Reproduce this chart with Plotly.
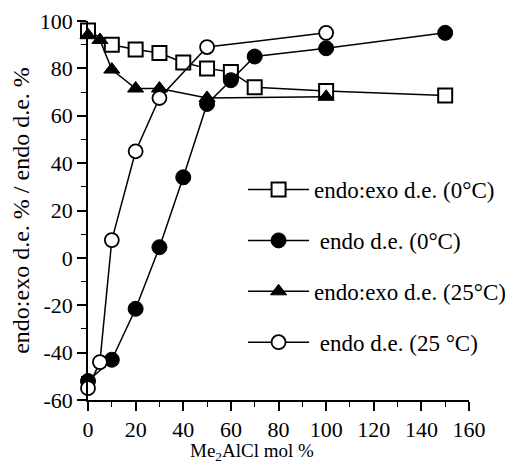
import plotly.graph_objects as go

# endo:exo d.e. (0 °C) - open squares
x_sq = [0, 10, 20, 30, 40, 50, 60, 70, 100, 150]
y_sq = [96, 90, 88, 86.5, 82.5, 80, 78.5, 72, 70.5, 68.5]

# endo d.e. (0 °C) - filled circles
x_fc = [0, 10, 20, 30, 40, 50, 60, 70, 100, 150]
y_fc = [-52, -43, -21.5, 4.5, 34, 65, 75, 85, 88.5, 95]

# endo:exo d.e. (25 °C) - filled triangles
x_tr = [0, 5, 10, 20, 30, 50, 100]
y_tr = [94, 92, 79.5, 71.5, 71.5, 67.5, 68]

# endo d.e. (25 °C) - open circles
x_oc = [0, 5, 10, 20, 30, 50, 100]
y_oc = [-55, -44, 7.5, 45, 67.5, 89, 95]

x_ticks = [0, 20, 40, 60, 80, 100, 120, 140, 160]
y_ticks = [-60, -40, -20, 0, 20, 40, 60, 80, 100]

FONT = "Liberation Serif"
fig = go.Figure()

line = dict(color="black", width=1.5)
fig.add_trace(go.Scatter(x=x_sq, y=y_sq, mode="lines+markers", name="endo:exo d.e. (0°C)",
                         line=line, legendgroup="a",
                         marker=dict(symbol="square", size=14, color="white",
                                     line=dict(color="black", width=2)), cliponaxis=False))
fig.add_trace(go.Scatter(x=x_fc, y=y_fc, mode="lines+markers", name=" endo d.e. (0°C)",
                         line=line, legendgroup="b",
                         marker=dict(symbol="circle", size=15, color="black",
                                     line=dict(color="black", width=1)), cliponaxis=False))
fig.add_trace(go.Scatter(x=x_tr, y=y_tr, mode="lines+markers", name="endo:exo d.e. (25°C)",
                         line=line, legendgroup="c",
                         marker=dict(symbol="triangle-up", size=14, color="black",
                                     line=dict(color="black", width=1)), cliponaxis=False))
fig.add_trace(go.Scatter(x=x_oc, y=y_oc, mode="lines+markers", name=" endo d.e. (25 °C)",
                         line=line, legendgroup="d",
                         marker=dict(symbol="circle", size=14, color="white",
                                     line=dict(color="black", width=1.8)), cliponaxis=False))

axis_common = dict(showgrid=False, zeroline=False, showline=True, linecolor="black",
                   linewidth=1.5, ticks="outside", ticklen=9, tickwidth=1.5, tickcolor="black",
                   automargin=False,
                   tickfont=dict(family=FONT, size=22, color="black"),
                   minor=dict(ticks="outside", ticklen=5, tickwidth=1.2, tickcolor="black", dtick=10))

fig.update_xaxes(range=[0, 160], tickvals=x_ticks, ticktext=[str(v) for v in x_ticks],
                 **axis_common)
fig.update_yaxes(range=[-60, 100], tickvals=y_ticks, ticktext=[str(v) for v in y_ticks],
                 title=dict(text="endo:exo d.e. % / endo d.e. %", font=dict(family=FONT, size=24, color="black"),
                            standoff=8),
                 **axis_common)

fig.add_annotation(text="Me<sub>2</sub>AlCl mol %", xref="paper", yref="paper",
                   x=0.43, y=-0.137, xanchor="center", yanchor="middle", showarrow=False,
                   font=dict(family=FONT, size=19, color="black"))

fig.update_layout(
    width=505, height=457,
    margin=dict(l=80, r=44, t=13, b=65, autoexpand=False),
    paper_bgcolor="white", plot_bgcolor="white",
    font=dict(family=FONT, color="black"),
    legend=dict(x=0.407, y=0.612, xanchor="left", yanchor="top",
                font=dict(family=FONT, size=23, color="black"),
                tracegroupgap=18, itemwidth=61, bgcolor="rgba(0,0,0,0)"),
)

fig.write_html("out.html")
